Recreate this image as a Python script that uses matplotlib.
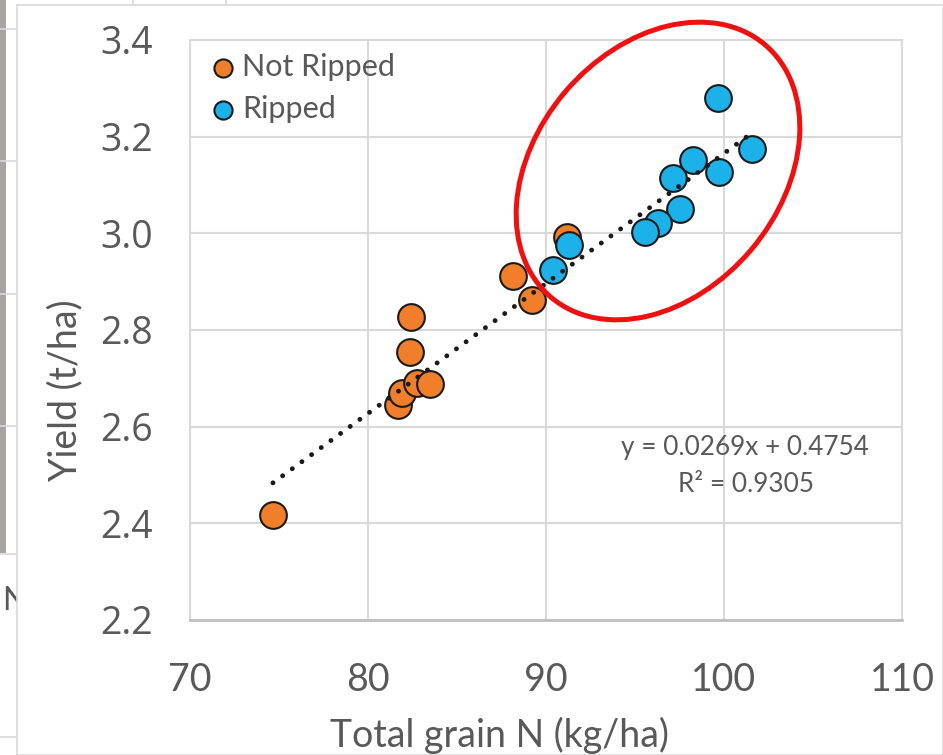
import matplotlib
matplotlib.use("Agg")
import matplotlib.pyplot as plt
from matplotlib.patches import Ellipse, Rectangle
from matplotlib.lines import Line2D

# ---- data -------------------------------------------------------------
not_ripped_n = [74.66, 81.69, 81.91, 82.75, 83.48, 82.42, 82.36, 88.15, 89.21, 91.18]
not_ripped_yield = [2.417, 2.645, 2.670, 2.690, 2.688, 2.827, 2.755, 2.912, 2.862, 2.993]

ripped_n = [99.67, 101.56, 98.24, 97.15, 99.74, 97.53, 96.31, 95.56, 91.31, 90.37]
ripped_yield = [3.281, 3.175, 3.152, 3.114, 3.126, 3.050, 3.021, 3.003, 2.976, 2.924]

trend_slope = 0.0269
trend_intercept = 0.4754
trend_r2 = 0.9305

x_ticks = [70, 80, 90, 100, 110]
y_ticks = [2.2, 2.4, 2.6, 2.8, 3.0, 3.2, 3.4]

series_labels = ["Not Ripped", "Ripped"]
x_title = "Total grain N (kg/ha)"
y_title = "Yield (t/ha)"

# ---- styling ----------------------------------------------------------
W, H = 943, 755
ORANGE = "#F07E2B"
BLUE = "#1DB1EA"
EDGE = "#1a1a1a"
GRID = "#D9D9D9"
TEXT = "#595959"
LABEL_FONT = ["Lato", "DejaVu Sans"]
TICK_FONT = ["Open Sans", "DejaVu Sans"]


def fx(x):
    return x / W


def fy(y):
    return 1 - y / H


fig = plt.figure(figsize=(W / 100, H / 100), dpi=100)
fig.patch.set_facecolor("white")

# window chrome around the chart panel
fig.add_artist(Rectangle((0, fy(553)), fx(6), 553 / H, transform=fig.transFigure,
                         facecolor="#A8A4A4", edgecolor="none", zorder=-3))
for yy in [29, 161, 294, 426, 554, 737]:
    fig.add_artist(Line2D([0, fx(17)], [fy(yy), fy(yy)], transform=fig.transFigure,
                          color=GRID, lw=1.2, zorder=-3))
fig.text(fx(2), fy(610), "N", fontsize=23, color=TEXT, family=LABEL_FONT,
         ha="left", va="baseline", zorder=-2)
fig.add_artist(Rectangle((fx(17), 0), 1 - fx(17), fy(5), transform=fig.transFigure,
                         facecolor="white", edgecolor=GRID, lw=1.2, zorder=-1))
for xx in [133, 226]:
    fig.add_artist(Line2D([fx(xx), fx(xx)], [fy(0), fy(5)], transform=fig.transFigure,
                          color=GRID, lw=1.2, zorder=-1))

# ---- axes -------------------------------------------------------------
ax = fig.add_axes([fx(190), fy(620), fx(902) - fx(190), fy(40) - fy(620)])
ax.set_facecolor("white")
ax.set_xlim(x_ticks[0], x_ticks[-1])
ax.set_ylim(y_ticks[0], y_ticks[-1])
ax.set_xticks(x_ticks)
ax.set_yticks(y_ticks)
ax.set_yticklabels([f"{v:.1f}" for v in y_ticks])
ax.grid(True, color=GRID, lw=1.5, zorder=0)
ax.set_axisbelow(True)
for name, sp in ax.spines.items():
    sp.set_color(GRID)
    sp.set_linewidth(1.5)
ax.spines["bottom"].set_color("#BFBFBF")
ax.spines["bottom"].set_linewidth(2.0)
ax.tick_params(length=0, colors=TEXT)
ax.tick_params(axis="x", pad=30, labelsize=27)
ax.tick_params(axis="y", pad=27, labelsize=27)
for t in ax.get_xticklabels():
    t.set_family(LABEL_FONT)
for t in ax.get_yticklabels():
    t.set_family(TICK_FONT)

ax.scatter(not_ripped_n, not_ripped_yield, s=370, c=ORANGE, edgecolors=EDGE,
           linewidths=1.5, zorder=3, label=series_labels[0])
ax.scatter(ripped_n, ripped_yield, s=370, c=BLUE, edgecolors=EDGE,
           linewidths=1.5, zorder=3, label=series_labels[1])

# linear trend line across the full data range
all_n = not_ripped_n + ripped_n
tx = [min(all_n), max(all_n)]
ty = [trend_slope * v + trend_intercept for v in tx]
ax.plot(tx, ty, color=EDGE, lw=3.5, linestyle=(0, (0.01, 2.45)),
        dash_capstyle="round", zorder=4)

fig.text(fx(745), fy(455), f"y = {trend_slope}x + {trend_intercept}", fontsize=18.8,
         color=TEXT, family=LABEL_FONT, ha="center", va="baseline")
fig.text(fx(746), fy(492), f"R\u00b2 = {trend_r2}", fontsize=18.8,
         color=TEXT, family=LABEL_FONT, ha="center", va="baseline")

leg = ax.legend(loc="upper left", bbox_to_anchor=(fx(215), fy(53)),
                bbox_transform=fig.transFigure, frameon=False, borderpad=0,
                borderaxespad=0, handlelength=0.55, handletextpad=0.33,
                labelspacing=0.45, markerscale=0.68,
                prop={"family": LABEL_FONT, "size": 22})
for t in leg.get_texts():
    t.set_color(TEXT)

# axis titles
fig.text(fx(500), fy(747), x_title, fontsize=27, color=TEXT, family=LABEL_FONT,
         ha="center", va="baseline")
fig.text(fx(65), fy(390), y_title, fontsize=27, color=TEXT, family=LABEL_FONT,
         ha="center", va="center", rotation=90)

# highlight around the ripped cluster
fig.add_artist(Ellipse((6.58, (H - 171) / 100), 3.31, 2.44, angle=49.7,
                       transform=fig.dpi_scale_trans, fill=False,
                       edgecolor="#F01010", lw=3.6, zorder=10))

fig.savefig("out.png", dpi=100)
